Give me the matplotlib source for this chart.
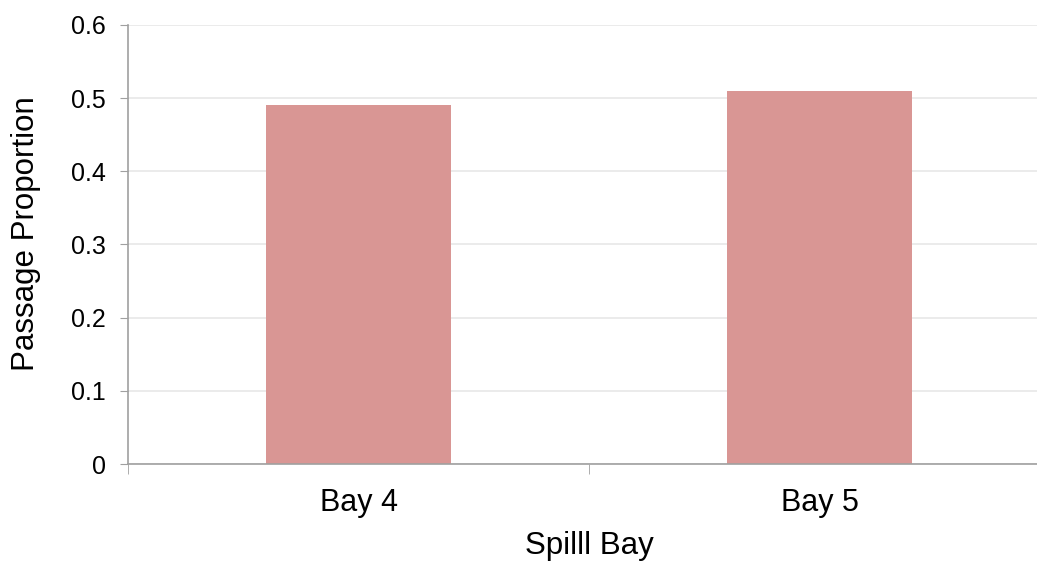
import matplotlib.pyplot as plt

plt.rcParams["font.family"] = ["Liberation Sans", "DejaVu Sans"]

# Passage proportion by spill bay
bays = ["Bay 4", "Bay 5"]
proportions = [0.49, 0.51]

fig = plt.figure(figsize=(10.37, 5.62), dpi=100)
ax = fig.add_axes([128 / 1037, 98 / 562, 922 / 1037, 439 / 562])

x = range(len(bays))
ax.bar(x, proportions, width=0.4, color="#d99694", zorder=2)

ax.set_xlim(-0.5, 1.5)
ax.set_ylim(0, 0.6)
ax.set_yticks([0, 0.1, 0.2, 0.3, 0.4, 0.5, 0.6])
ax.set_yticklabels(["0", "0.1", "0.2", "0.3", "0.4", "0.5", "0.6"])
ax.set_xticks(list(x))
ax.set_xticklabels(bays)
ax.set_xticks([-0.5, 0.5, 1.5], minor=True)

ax.yaxis.grid(True, color="#e8e8e8", linewidth=1.2, zorder=0)
ax.set_axisbelow(True)

for side in ["top", "right"]:
    ax.spines[side].set_visible(False)
for side in ["left", "bottom"]:
    ax.spines[side].set_color("#a0a0a0")
    ax.spines[side].set_linewidth(1.2)

ax.tick_params(axis="y", length=6, color="#a0a0a0", labelsize=18, pad=10)
ax.tick_params(axis="x", which="major", length=0, labelsize=22, pad=17)
ax.tick_params(axis="x", which="minor", length=7, color="#a0a0a0")

ax.set_xlabel("Spilll Bay", fontsize=22.5)
ax.set_ylabel("Passage Proportion", fontsize=22.5)
ax.xaxis.set_label_coords(0.5, -0.152)
ax.yaxis.set_label_coords(-0.094, 0.524)

fig.savefig("out.png", dpi=100)
